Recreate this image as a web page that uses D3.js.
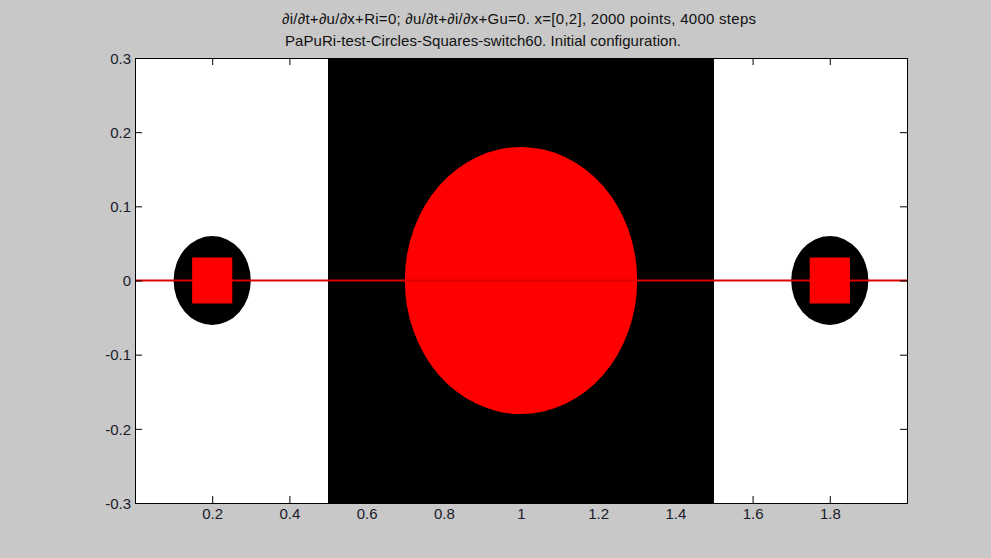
<!DOCTYPE html>
<html>
<head>
<meta charset="utf-8">
<script src="https://cdn.jsdelivr.net/npm/d3@7"></script>
<style>
  html, body { margin: 0; padding: 0; background: #c8c8c8; }
  svg { display: block; }
  text { font-family: "Liberation Sans", Arial, sans-serif; }
</style>
</head>
<body>
<svg id="chart" width="991" height="558"></svg>
<script>
// Title lines
const titleLines = [
  "\u2202i/\u2202t+\u2202u/\u2202x+Ri=0; \u2202u/\u2202t+\u2202i/\u2202x+Gu=0. x=[0,2], 2000 points, 4000 steps",
  "PaPuRi-test-Circles-Squares-switch60. Initial configuration."
];

// Axis ranges and ticks
const xDomain = [0, 2];
const yDomain = [-0.3, 0.3];
const xTicks = [0.2, 0.4, 0.6, 0.8, 1.0, 1.2, 1.4, 1.6, 1.8];
const yTicks = [-0.3, -0.2, -0.1, 0, 0.1, 0.2, 0.3];

// Black band of the medium: x-interval
const bandX = [0.5, 1.5];

// Black elliptic "circles": centre x, centre y, radius x, radius y
const circleCx = [0.2, 1.8];
const circleCy = [0, 0];
const circleRx = [0.1, 0.1];
const circleRy = [0.06, 0.06];

// Red squares: centre x, centre y, half-width, half-height
const squareCx = [0.2, 1.8];
const squareCy = [0, 0];
const squareHw = [0.052, 0.052];
const squareHh = [0.031, 0.031];

// Large red ellipse
const bigCx = [1.0];
const bigCy = [0];
const bigRx = [0.301];
const bigRy = [0.18];

// Initial signal line u(x) = 0 on the whole interval
const lineX = [0, 2];
const lineY = [0, 0];

const svg = d3.select("#chart");
const margin = { left: 135, right: 84, top: 58, bottom: 55 };
const W = 991, H = 558;

const x = d3.scaleLinear().domain(xDomain).range([margin.left, W - margin.right]);
const y = d3.scaleLinear().domain(yDomain).range([H - margin.bottom, margin.top]);

const plot = svg.append("g");

// axes background
plot.append("rect")
  .attr("x", x(xDomain[0])).attr("y", y(yDomain[1]))
  .attr("width", x(xDomain[1]) - x(xDomain[0]))
  .attr("height", y(yDomain[0]) - y(yDomain[1]))
  .attr("fill", "#ffffff");

// black band
plot.append("rect")
  .attr("x", x(bandX[0])).attr("y", y(yDomain[1]))
  .attr("width", x(bandX[1]) - x(bandX[0]))
  .attr("height", y(yDomain[0]) - y(yDomain[1]))
  .attr("fill", "#000000");

// black ellipses
plot.selectAll("ellipse.small")
  .data(circleCx.map((c, i) => ({ cx: c, cy: circleCy[i], rx: circleRx[i], ry: circleRy[i] })))
  .join("ellipse")
  .attr("class", "small")
  .attr("cx", d => x(d.cx)).attr("cy", d => y(d.cy))
  .attr("rx", d => x(d.rx) - x(0)).attr("ry", d => y(0) - y(d.ry))
  .attr("fill", "#000000");

// large red ellipse
plot.selectAll("ellipse.big")
  .data(bigCx.map((c, i) => ({ cx: c, cy: bigCy[i], rx: bigRx[i], ry: bigRy[i] })))
  .join("ellipse")
  .attr("class", "big")
  .attr("cx", d => x(d.cx)).attr("cy", d => y(d.cy))
  .attr("rx", d => x(d.rx) - x(0)).attr("ry", d => y(0) - y(d.ry))
  .attr("fill", "#ff0000");

// signal line
const line = d3.line().x(d => x(d[0])).y(d => y(d[1]));
plot.append("path")
  .datum(lineX.map((v, i) => [v, lineY[i]]))
  .attr("d", line)
  .attr("fill", "none")
  .attr("stroke", "#e00000")
  .attr("stroke-width", 2);

// red squares
plot.selectAll("rect.sq")
  .data(squareCx.map((c, i) => ({ cx: c, cy: squareCy[i], hw: squareHw[i], hh: squareHh[i] })))
  .join("rect")
  .attr("class", "sq")
  .attr("x", d => x(d.cx - d.hw)).attr("y", d => y(d.cy + d.hh))
  .attr("width", d => x(d.cx + d.hw) - x(d.cx - d.hw))
  .attr("height", d => y(d.cy - d.hh) - y(d.cy + d.hh))
  .attr("fill", "#ff0000");

// axes with inward ticks on all four sides
const tickLen = 7;
const axFont = "15px";
const fmt = d => String(+(+d).toFixed(1));
const bottomAxis = svg.append("g")
  .attr("transform", `translate(0,${y(yDomain[0])})`)
  .call(d3.axisBottom(x).tickValues(xTicks).tickSize(-tickLen).tickPadding(tickLen + 6)
    .tickFormat(fmt));
const topAxis = svg.append("g")
  .attr("transform", `translate(0,${y(yDomain[1])})`)
  .call(d3.axisTop(x).tickValues(xTicks).tickSize(-tickLen).tickFormat(""));
const leftAxis = svg.append("g")
  .attr("transform", `translate(${x(xDomain[0])},0)`)
  .call(d3.axisLeft(y).tickValues(yTicks).tickSize(-tickLen).tickPadding(4)
    .tickFormat(fmt));
const rightAxis = svg.append("g")
  .attr("transform", `translate(${x(xDomain[1])},0)`)
  .call(d3.axisRight(y).tickValues(yTicks).tickSize(-tickLen).tickFormat(""));

[bottomAxis, topAxis, leftAxis, rightAxis].forEach(g => {
  g.select(".domain").attr("stroke", "#000").attr("stroke-width", 1);
  g.selectAll(".tick line").attr("stroke", "#000");
  g.selectAll(".tick text")
    .attr("font-family", "Liberation Sans, Arial, sans-serif")
    .attr("font-size", axFont).attr("fill", "#1a1a2a");
});
bottomAxis.selectAll(".tick text").attr("dy", "0.2em");
leftAxis.selectAll(".tick text").attr("dy", "0.35em");

// title, two lines
const titleStart = [282, 285];
const titleWidth = [474, 396];
svg.append("g").selectAll("text")
  .data(titleLines)
  .join("text")
  .attr("x", (d, i) => titleStart[i])
  .attr("y", (d, i) => 24 + i * 22)
  .attr("font-size", "15px")
  .attr("textLength", (d, i) => titleWidth[i])
  .attr("lengthAdjust", "spacing")
  .attr("fill", "#111")
  .text(d => d);
</script>
</body>
</html>
